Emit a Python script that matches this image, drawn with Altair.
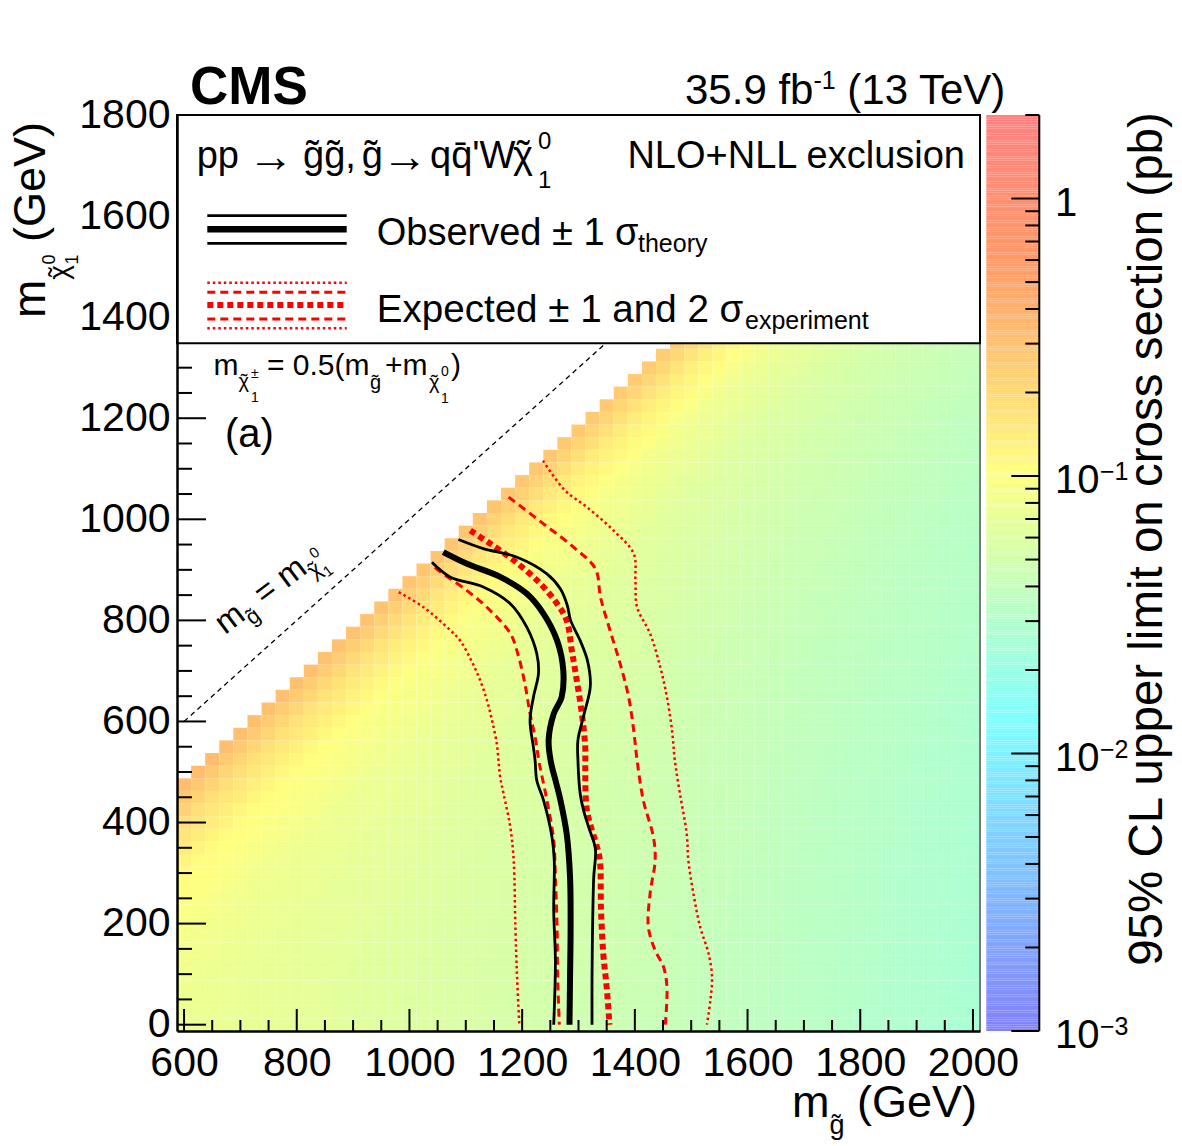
import math
import unicodedata

import numpy as np
import pandas as pd
import altair as alt

FONT = "Liberation Sans"

# ---------------------------------------------------------------- frame / axes
X_DOMAIN = [587.5, 2012.5]          # gluino mass (GeV)
Y_DOMAIN = [-12.5, 1800.0]          # LSP mass (GeV)
PLOT_W, PLOT_H = 803, 916
X_MAJOR = [600, 800, 1000, 1200, 1400, 1600, 1800, 2000]
Y_MAJOR = [0, 200, 400, 600, 800, 1000, 1200, 1400, 1600, 1800]
X_MINOR = [v for v in range(600, 2001, 50) if v not in X_MAJOR]
Y_MINOR = [v for v in range(0, 1801, 50) if v not in Y_MAJOR]

# ---------------------------------------------------------------- z axis (pb)
Z_RANGE = [1e-3, 2.0]
PALETTE_STOPS = [0.00, 0.34, 0.61, 0.84, 1.00]
PALETTE = ["#8080ff", "#80ffff", "#ffff80", "#ff9966", "#ff8080"]
Z_LABEL_VALUES = [1e-3, 1e-2, 1e-1, 1.0]
Z_LABEL_BASE = ["10", "10", "10", "1"]
Z_LABEL_EXP = ["\u22123", "\u22122", "\u22121", ""]

# ---------------------------------------------------------------- cross-section upper limits (pb)
# rows: gluino mass; columns: mass splitting m(gluino) - m(LSP)
GLUINO_NODES = [600, 800, 1000, 1200, 1400, 1600, 1800, 2000]
SPLIT_NODES = [125, 200, 300, 450, 600, 800, 1000, 1200, 1400, 1600, 1800, 2000]
LIMIT_600 = [0.32, 0.18, 0.110, 0.085, 0.076]
LIMIT_800 = [0.30, 0.17, 0.105, 0.080, 0.072, 0.068]
LIMIT_1000 = [0.28, 0.16, 0.100, 0.077, 0.068, 0.063, 0.060]
LIMIT_1200 = [0.27, 0.15, 0.095, 0.072, 0.063, 0.057, 0.054, 0.052]
LIMIT_1400 = [0.25, 0.14, 0.088, 0.066, 0.058, 0.052, 0.048, 0.046, 0.044]
LIMIT_1600 = [0.23, 0.13, 0.080, 0.060, 0.052, 0.046, 0.042, 0.040, 0.038, 0.037]
LIMIT_1800 = [0.21, 0.12, 0.074, 0.055, 0.047, 0.041, 0.037, 0.035, 0.033, 0.032, 0.031]
LIMIT_2000 = [0.20, 0.11, 0.068, 0.050, 0.043, 0.037, 0.033, 0.031, 0.029, 0.028, 0.027, 0.026]
LIMIT_ROWS = [LIMIT_600, LIMIT_800, LIMIT_1000, LIMIT_1200,
              LIMIT_1400, LIMIT_1600, LIMIT_1800, LIMIT_2000]

# ---------------------------------------------------------------- exclusion contours (m_gluino, m_LSP)
OBS = [(1060, 935), (1102, 912), (1161, 886), (1208, 853), (1238, 813), (1262, 760),
       (1273, 701), (1270, 648), (1256, 615), (1247, 563), (1251, 520), (1260, 480),
       (1268, 444), (1279, 378), (1285, 292), (1286, 193), (1285, 94), (1284, 0)]
OBS_DOWN = [(1040, 915), (1072, 886), (1131, 866), (1179, 833), (1208, 787), (1226, 734),
            (1229, 695), (1220, 648), (1214, 602), (1220, 549), (1223, 523), (1226, 483),
            (1238, 444), (1253, 371), (1257, 325), (1256, 226), (1259, 127), (1256, 0)]
OBS_UP = [(1087, 960), (1131, 942), (1191, 925), (1244, 892), (1268, 862), (1280, 830),
          (1286, 800), (1303, 760), (1316, 720), (1321, 670), (1310, 615), (1299, 563),
          (1299, 523), (1303, 457), (1309, 424), (1318, 391), (1330, 348), (1327, 292),
          (1325, 193), (1324, 94), (1324, 0)]
EXP = [(1108, 978), (1143, 952), (1185, 919), (1232, 873), (1262, 833), (1279, 800),
       (1288, 741), (1297, 681), (1306, 615), (1312, 549), (1312, 510), (1315, 424),
       (1333, 351), (1338, 325), (1340, 226), (1344, 140), (1350, 74), (1355, 0)]
EXP_DOWN1 = [(1045, 905), (1055, 896), (1102, 859), (1143, 820), (1179, 774), (1194, 727),
             (1206, 668), (1214, 615), (1223, 569), (1230, 520), (1244, 444), (1256, 365),
             (1259, 292), (1262, 193), (1263, 94), (1266, 0)]
EXP_UP1 = [(1176, 1044), (1238, 991), (1291, 945), (1330, 902), (1339, 846), (1356, 780),
           (1374, 714), (1389, 648), (1398, 582), (1404, 523), (1415, 444), (1433, 371),
           (1436, 325), (1427, 259), (1424, 193), (1436, 147), (1451, 114), (1457, 74),
           (1454, 0)]
EXP_DOWN2 = [(981, 856), (1025, 826), (1072, 781), (1090, 760), (1110, 720), (1126, 680),
             (1138, 640), (1147, 600), (1155, 556), (1158, 523), (1161, 490), (1167, 457),
             (1179, 391), (1185, 325), (1188, 193), (1191, 94), (1195, 0)]
EXP_UP2 = [(1237, 1116), (1276, 1057), (1315, 1024), (1362, 978), (1398, 932), (1401, 879),
           (1404, 826), (1427, 774), (1445, 708), (1457, 648), (1466, 582), (1471, 523),
           (1480, 457), (1492, 378), (1495, 325), (1504, 259), (1516, 193), (1531, 140),
           (1537, 94), (1534, 48), (1528, 0)]
DIAGONAL = [600, 1800]   # m_gluino = m_LSP

# ---------------------------------------------------------------- helpers
ONE = pd.DataFrame({"k": [0]})
XS = alt.Scale(domain=X_DOMAIN, nice=False, zero=False)
YS = alt.Scale(domain=Y_DOMAIN, nice=False, zero=False)
ZS = alt.Scale(type="log", domain=Z_RANGE, nice=False)
CS = alt.Scale(type="log",
               domain=[Z_RANGE[0] * (Z_RANGE[1] / Z_RANGE[0]) ** s for s in PALETTE_STOPS],
               range=PALETTE, interpolate="rgb", nice=False, clamp=True)

AXIS_COMMON = dict(title=None, ticks=False, tickSize=0, grid=False, labelFont=FONT,
                   labelFontSize=41, labelColor="black", labelFlush=False, format="d",
                   labelOverlap=False, domainColor="black", domainWidth=2.5, zindex=1)
X_AXIS = alt.Axis(values=X_MAJOR, labelPadding=12, **AXIS_COMMON)
Y_AXIS = alt.Axis(values=Y_MAJOR, labelPadding=7, labelOffset=0, **AXIS_COMMON)


def gx(field):
    return alt.X(field, scale=XS, axis=X_AXIS)


ADV = {" ": 278, "(": 333, ")": 333, "+": 584, ",": 278, "-": 333, ".": 278, "'": 191,
       "=": 584, "%": 889, "\u00b1": 584, "\u2192": 1000, "\u2212": 584, "~": 584,
       "\u03c3": 620, "\u03c7": 540,
       "a": 556, "b": 556, "c": 500, "d": 556, "e": 556, "f": 278, "g": 556, "h": 556,
       "i": 222, "l": 222, "m": 833, "n": 556, "o": 556, "p": 556, "q": 556, "r": 333,
       "s": 500, "t": 278, "u": 556, "v": 500, "x": 500, "y": 500,
       "C": 722, "E": 667, "G": 778, "L": 556, "M": 833, "N": 722, "O": 778, "S": 667,
       "T": 611, "V": 667, "W": 944}

T = "\u0303"           # combining tilde (used on Latin g)
CHI = "\u03c7"
CHI_T = "chi~"          # marker for a chi with a tilde drawn above it


def text_width(s, size):
    if s == CHI_T:
        return ADV[CHI] * size / 1000.0
    return sum(ADV.get(c, 556) for c in s if not unicodedata.combining(c)) * size / 1000.0


def label(txt, x, y, size, angle=0, align="left", weight="normal", baseline="alphabetic"):
    return alt.Chart(ONE).mark_text(
        text=txt, font=FONT, fontSize=size, fontWeight=weight, angle=angle,
        align=align, baseline=baseline, color="black",
    ).encode(x=alt.value(x), y=alt.value(y))


def chi_tilde(x, y, size, angle=0):
    """Greek chi with a tilde accent placed over its centre."""
    th = math.radians(angle)
    half = 0.5 * ADV[CHI] * size / 1000.0
    return [label(CHI, x, y, size, angle=angle),
            label("\u02dc", x + half * math.cos(th), y + half * math.sin(th), size,
                  angle=angle, align="center")]


def put(txt, x, y, size, angle=0, align="left"):
    if txt == CHI_T:
        return chi_tilde(x, y, size, angle)
    return [label(txt, x, y, size, angle=angle, align=align)]


def rich(pieces, x0, y0, angle=0):
    """Lay out (text, size, shift, advance) pieces along a baseline."""
    th = math.radians(angle)
    ax, ay = math.cos(th), math.sin(th)
    nx, ny = -math.sin(th), math.cos(th)
    cur, out = 0.0, []
    for txt, size, shift, advance in pieces:
        lead = len(txt) - len(txt.lstrip(" "))
        cur += text_width(" " * lead, size)
        body = txt.lstrip(" ")
        out += put(body, x0 + cur * ax + shift * nx, y0 + cur * ay + shift * ny, size, angle)
        if advance:
            cur += text_width(body, size)
    return out


def hrule(y, x1, x2, color, width, dash=None):
    kw = dict(color=color, strokeWidth=width, strokeCap="butt")
    if dash:
        kw["strokeDash"] = dash
    return alt.Chart(ONE).mark_rule(**kw).encode(
        x=alt.value(x1), x2=alt.value(x2), y=alt.value(y))


def contour(points, color, width, dash=None):
    df = pd.DataFrame(points, columns=["mg", "mlsp"])
    df["i"] = range(len(df))
    kw = dict(color=color, strokeWidth=width, clip=True, interpolate="catmull-rom",
              strokeCap="butt", strokeJoin="round")
    if dash:
        kw["strokeDash"] = dash
    return alt.Chart(df).mark_line(**kw).encode(
        x=gx("mg:Q"),
        y=alt.Y("mlsp:Q", scale=YS, axis=None),
        order=alt.Order("i:Q"),
    )


# ---------------------------------------------------------------- 2D limit histogram (25 GeV bins)
def limit_at(mg, split):
    logs = [np.interp(split, SPLIT_NODES[:len(row)], np.log10(row)) for row in LIMIT_ROWS]
    return float(10 ** np.interp(mg, GLUINO_NODES, logs))


cells = []
for mg in range(600, 2001, 25):
    for ml in range(0, mg - 125 + 1, 25):
        cells.append({"x0": mg - 12.5, "x1": mg + 12.5, "y0": ml - 12.5, "y1": ml + 12.5,
                      "limit": limit_at(mg, mg - ml)})
cells = pd.DataFrame(cells)

heat = alt.Chart(cells).mark_rect(clip=True, strokeWidth=0).encode(
    x=gx("x0:Q"),
    x2="x1:Q",
    y=alt.Y("y0:Q", scale=YS, axis=Y_AXIS),
    y2="y1:Q",
    color=alt.Color("limit:Q", scale=CS, legend=None),
)

diag_df = pd.DataFrame({"mg": DIAGONAL, "mlsp": DIAGONAL, "i": [0, 1]})
diag = alt.Chart(diag_df).mark_line(color="black", strokeWidth=1.3, strokeDash=[5, 4],
                                    clip=True).encode(
    x=gx("mg:Q"), y=alt.Y("mlsp:Q", scale=YS, axis=None), order="i:Q")

RED = "#ff0000"
curves = [
    contour(EXP_DOWN2, RED, 2.5, [2.5, 3]),
    contour(EXP_UP2, RED, 2.5, [2.5, 3]),
    contour(EXP_DOWN1, RED, 3, [8, 5]),
    contour(EXP_UP1, RED, 3, [8, 5]),
    contour(EXP, RED, 6, [6, 4]),
    contour(OBS_DOWN, "black", 2.8),
    contour(OBS_UP, "black", 2.8),
    contour(OBS, "black", 6),
]

# inward ticks on the frame
xt_major = alt.Chart(pd.DataFrame({"v": X_MAJOR})).mark_rule(color="black", strokeWidth=2).encode(
    x=gx("v:Q"), y=alt.value(PLOT_H), y2=alt.value(PLOT_H - 22))
xt_minor = alt.Chart(pd.DataFrame({"v": X_MINOR})).mark_rule(color="black", strokeWidth=2).encode(
    x=gx("v:Q"), y=alt.value(PLOT_H), y2=alt.value(PLOT_H - 11))
yt_major = alt.Chart(pd.DataFrame({"v": Y_MAJOR})).mark_rule(color="black", strokeWidth=2).encode(
    y=alt.Y("v:Q", scale=YS, axis=None), x=alt.value(0), x2=alt.value(29))
yt_minor = alt.Chart(pd.DataFrame({"v": Y_MINOR})).mark_rule(color="black", strokeWidth=2).encode(
    y=alt.Y("v:Q", scale=YS, axis=None), x=alt.value(0), x2=alt.value(15))
right_frame = alt.Chart(ONE).mark_rule(color="#333333", strokeWidth=1.2).encode(
    x=alt.value(PLOT_W), y=alt.value(0), y2=alt.value(PLOT_H))

# ---------------------------------------------------------------- legend box
BOX_B = 228.3
box = alt.Chart(ONE).mark_rect(fill="white", stroke="black", strokeWidth=2).encode(
    x=alt.value(0), x2=alt.value(PLOT_W), y=alt.value(0), y2=alt.value(BOX_B))

legend = [box]
legend += put("pp", 19.7, 53.3, 38)
legend += put("\u2192", 71, 57, 46)
legend += put("g" + T + "g" + T + ",", 126, 53.3, 38)
legend += put("g" + T, 184.7, 53.3, 38)
legend += put("\u2192", 205, 57, 46)
legend += put("qq\u0304'W", 253, 53.3, 38)
legend += put(CHI_T, 336, 53.3, 38)
legend += put("0", 361, 34, 24) + put("1", 361, 73.3, 24)
legend += put("NLO+NLL exclusion", 788, 53.3, 38, align="right")
LX1, LX2 = 30.3, 169.7
legend += [hrule(100.7, LX1, LX2, "black", 2.8), hrule(114.3, LX1, LX2, "black", 6.5),
           hrule(128.3, LX1, LX2, "black", 2.8)]
legend += put("Observed \u00b1 1 \u03c3", 199.7, 130, 38) + put("theory", 461, 137, 25)
legend += [hrule(167.7, LX1, LX2, RED, 2.5, [2.5, 3]), hrule(177.3, LX1, LX2, RED, 3, [8, 5]),
           hrule(190, LX1, LX2, RED, 6, [6, 4]), hrule(204, LX1, LX2, RED, 3, [8, 5]),
           hrule(213.3, LX1, LX2, RED, 2.5, [2.5, 3])]
legend += put("Expected \u00b1 1 and 2 \u03c3", 199.7, 206.7, 38.6)
legend += put("experiment", 568, 214, 25)

# ---------------------------------------------------------------- annotations inside the frame
notes = []
notes += put("m", 36.6, 260, 30)
notes += put(CHI_T, 61.6, 273, 20)
notes += put("\u00b1", 74, 263, 14) + put("1", 74, 287, 14)
notes += put("= 0.5(m", 90, 260, 30)
notes += put("g" + T, 193, 274, 20)
notes += put("+m", 208, 260, 30)
notes += put(CHI_T, 252, 274, 20)
notes += put("0", 264, 261, 14) + put("1", 264, 288, 14)
notes += put(")", 274, 260, 30)
notes += put("(a)", 48, 332, 40)
notes += rich([("m", 33, 0, True), ("g" + T, 22, 9, True), (" = m", 33, 0, True),
               (CHI_T, 22, 9, True), ("0", 15, -7, False), ("1", 15, 16, True)],
              48, 520, angle=323)

# ---------------------------------------------------------------- colour bar
CB_X1, CB_X2 = 809.3, 862.3
levels = np.logspace(math.log10(Z_RANGE[0]), math.log10(Z_RANGE[1]), 401)
bar_df = pd.DataFrame({"lo": levels[:-1], "hi": levels[1:], "mid": np.sqrt(levels[:-1] * levels[1:])})
cbar = alt.Chart(bar_df).mark_rect(strokeWidth=0).encode(
    x=alt.value(CB_X1), x2=alt.value(CB_X2),
    y=alt.Y("lo:Q", scale=ZS, axis=None), y2="hi:Q",
    color=alt.Color("mid:Q", scale=CS, legend=None))
z_minor = [k * 10.0 ** e for e in (-3, -2, -1, 0) for k in range(2, 10) if k * 10.0 ** e <= Z_RANGE[1]]
cb_major = alt.Chart(pd.DataFrame({"v": Z_LABEL_VALUES})).mark_rule(color="black", strokeWidth=2).encode(
    y=alt.Y("v:Q", scale=ZS, axis=None), x=alt.value(CB_X2), x2=alt.value(CB_X2 - 28))
cb_minor = alt.Chart(pd.DataFrame({"v": z_minor})).mark_rule(color="black", strokeWidth=2).encode(
    y=alt.Y("v:Q", scale=ZS, axis=None), x=alt.value(CB_X2), x2=alt.value(CB_X2 - 14))
cb_line = alt.Chart(ONE).mark_rule(color="black", strokeWidth=2).encode(
    x=alt.value(CB_X2), y=alt.value(0), y2=alt.value(PLOT_H))
zl_df = pd.DataFrame({"v": Z_LABEL_VALUES, "base": Z_LABEL_BASE, "exp": Z_LABEL_EXP})
cb_labels = alt.Chart(zl_df).mark_text(font=FONT, fontSize=40, align="left", baseline="alphabetic",
                                      dy=17, color="black").encode(
    y=alt.Y("v:Q", scale=ZS, axis=None), x=alt.value(878), text="base:N")
cb_exps = alt.Chart(zl_df[zl_df["exp"] != ""]).mark_text(
    font=FONT, fontSize=25, align="left", baseline="alphabetic", dy=4, color="black").encode(
    y=alt.Y("v:Q", scale=ZS, axis=None), x=alt.value(923), text="exp:N")
cb_title = label("95% CL upper limit on cross section (pb)", 985, 424, 47.5, angle=270, align="center")

# ---------------------------------------------------------------- titles and header
titles = [label("CMS", 13, -11, 53, weight="bold")]
titles += rich([("35.9 fb", 42, 0, True), ("-1", 25, -15, True), (" (13 TeV)", 42, 0, True)], 508, -11)
titles += rich([("m", 45, 0, True), ("g" + T, 27, 17, True), (" (GeV)", 45, 0, True)], 615, 1002)
titles += rich([("m", 46, 0, True), (CHI_T, 28, 23, True), ("0", 18, 10, False),
                ("1", 18, 33, True), (" (GeV)", 45, 0, True)], -132, 203, angle=270)

layers = ([heat, diag] + curves + [xt_major, xt_minor, yt_major, yt_minor, right_frame]
          + legend + notes
          + [cbar, cb_major, cb_minor, cb_line, cb_labels, cb_exps, cb_title] + titles)

chart = alt.layer(*layers).resolve_scale(y="independent").properties(
    width=PLOT_W, height=PLOT_H,
    autosize=alt.AutoSizeParams(type="none"),
    padding={"left": 177, "top": 115, "right": 202, "bottom": 115},
).configure_view(stroke=None).configure(background="white")

chart.save("out.html", embed_options={"renderer": "svg", "actions": False})
